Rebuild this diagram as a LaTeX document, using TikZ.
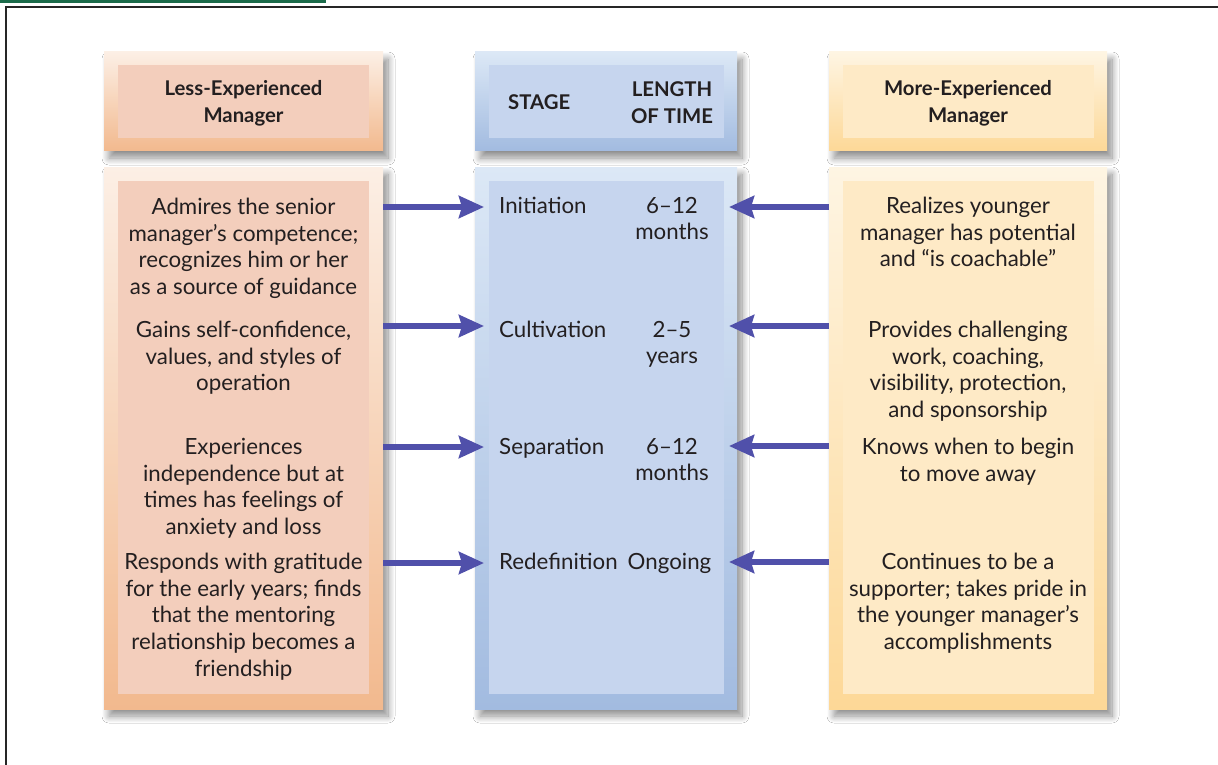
\documentclass[tikz,border=0pt]{standalone}
\usepackage{fontspec}
\setmainfont{Lato}
\usetikzlibrary{shadows.blur,arrows.meta}
\definecolor{lOutTop}{HTML}{FCEFE5}
\definecolor{lOutBot}{HTML}{F2B98E}
\definecolor{lIn}{HTML}{F3CEBC}
\definecolor{mOutTop}{HTML}{DCE8F6}
\definecolor{mOutBot}{HTML}{A2BBE0}
\definecolor{mIn}{HTML}{C6D5EE}
\definecolor{rOutTop}{HTML}{FEF5E3}
\definecolor{rOutBot}{HTML}{FDD897}
\definecolor{rIn}{HTML}{FEEAC6}
\definecolor{arrowc}{HTML}{5050AA}
\definecolor{arrowl}{HTML}{8C8CC8}
\definecolor{barg}{HTML}{1B6B4A}
\definecolor{txt}{HTML}{231F20}
\tikzset{
  outer/.style={inner sep=0pt, outer sep=0pt,
    blur shadow={shadow xshift=5pt, shadow yshift=-7pt, shadow blur radius=7pt, shadow blur steps=12, shadow opacity=45}},
  body/.style={font=\fontsize{22.3}{26.6}\selectfont, text=txt, align=center, inner sep=0pt},
  head/.style={font=\bfseries\fontsize{20.3}{27}\selectfont, text=txt, align=center, inner sep=0pt},
  arr/.style={line width=6pt, draw=arrowc, -{Stealth[length=25pt,width=22pt,inset=3pt]}},
}
\begin{document}
\begin{tikzpicture}[x=1pt,y=-1pt]
\useasboundingbox (0,0) rectangle (1218,765);
\fill[white] (0,0) rectangle (1218,765);
\fill[barg] (0,0) rectangle (326,3.5);
\draw[line width=1.6pt, draw=black!85] (6,765) -- (6,7) -- (1218,7);

% outer boxes
\path[outer, top color=lOutTop, bottom color=lOutBot] (104,52) rectangle (383,151);
\path[outer, top color=lOutTop, bottom color=lOutBot] (104,167) rectangle (383,709);
\path[outer, top color=mOutTop, bottom color=mOutBot] (475,52) rectangle (737,151);
\path[outer, top color=mOutTop, bottom color=mOutBot] (475,167) rectangle (737,709);
\path[outer, top color=rOutTop, bottom color=rOutBot] (829,52) rectangle (1107,151);
\path[outer, top color=rOutTop, bottom color=rOutBot] (829,167) rectangle (1107,709);

% inner boxes
\fill[lIn] (118,65) rectangle (369,138);
\fill[lIn] (118,181) rectangle (369,694);
\fill[mIn] (489,65) rectangle (724,138);
\fill[mIn] (489,181) rectangle (724,694);
\fill[rIn] (843,65) rectangle (1094,138);
\fill[rIn] (843,181) rectangle (1094,694);

% headers
\node[head] (lh) at (243.5,103) {Less-Experienced\\Manager};
\node[head, anchor=west] (st) at (508,102) {STAGE};
\node[head] (lt) at (672,103) {LENGTH\\OF TIME};
\node[head] (rh) at (968,103) {More-Experienced\\Manager};

% left texts
\node[body, anchor=north] (l1) at (243.5,198) {Admires the senior\\manager’s competence;\\recognizes him or her\\as a source of guidance};
\node[body, anchor=north] (l2) at (243.5,321) {Gains self-confidence,\\values, and styles of\\operation};
\node[body, anchor=north] (l3) at (243.5,438) {Experiences\\independence but at\\times has feelings of\\anxiety and loss};
\node[body, anchor=north] (l4) at (243.5,553) {Responds with gratitude\\for the early years; finds\\that the mentoring\\relationship becomes a\\friendship};

% right texts
\node[body, anchor=north] (r1) at (968,197) {Realizes younger\\manager has potential\\and “is coachable”};
\node[body, anchor=north] (r2) at (968,321) {Provides challenging\\work, coaching,\\visibility, protection,\\and sponsorship};
\node[body, anchor=north] (r3) at (968,438) {Knows when to begin\\to move away};
\node[body, anchor=north] (r4) at (968,553) {Continues to be a\\supporter; takes pride in\\the younger manager’s\\accomplishments};

% middle texts
\node[body, anchor=north west] (s1) at (499,197) {Initiation};
\node[body, anchor=north] (t1) at (672,197) {6–12\\months};
\node[body, anchor=north west] (s2) at (499,321) {Cultivation};
\node[body, anchor=north] (t2) at (672,321) {2–5\\years};
\node[body, anchor=north west] (s3) at (499,438) {Separation};
\node[body, anchor=north] (t3) at (672,438) {6–12\\months};
\node[body, anchor=north west] (s4) at (499,553) {Redefinition};
\node[body, anchor=north] (t4) at (669.5,553) {Ongoing};

% arrow anchor coordinates
\coordinate (la1) at (383,207); \coordinate (ma1) at (484,207);
\coordinate (la2) at (383,326); \coordinate (ma2) at (484,326);
\coordinate (la3) at (383,447); \coordinate (ma3) at (484,447);
\coordinate (la4) at (383,563); \coordinate (ma4) at (484,563);
\coordinate (ra1) at (829,207); \coordinate (mb1) at (729,207);
\coordinate (ra2) at (829,326); \coordinate (mb2) at (729,326);
\coordinate (ra3) at (829,446); \coordinate (mb3) at (729,446);
\coordinate (ra4) at (829,562); \coordinate (mb4) at (729,562);

\foreach \i in {1,2,3,4}{
  \draw[arr] (la\i) -- (ma\i);
  \draw[arr] (ra\i) -- (mb\i);
}
\end{tikzpicture}
\end{document}
